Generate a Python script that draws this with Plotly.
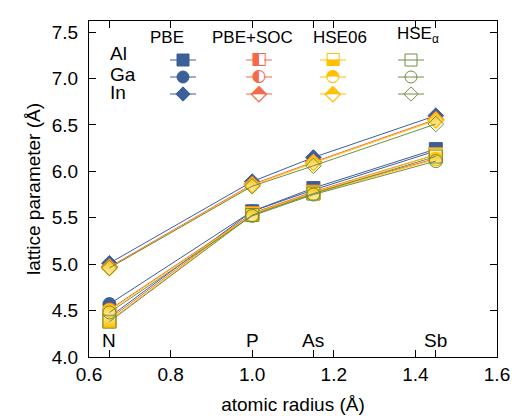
import plotly.graph_objects as go

# ---------------- data ----------------
elements = ["N", "P", "As", "Sb"]
radius = [0.65, 1.00, 1.15, 1.45]
cations = ["Al", "Ga", "In"]
methods = ["PBE", "PBE+SOC", "HSE06", "HSE<sub>α</sub>"]

pbe_al = [4.43, 5.57, 5.82, 6.24]
pbe_ga = [4.57, 5.57, 5.80, 6.22]
pbe_in = [5.01, 5.89, 6.15, 6.60]

soc_al = [4.41, 5.55, 5.78, 6.18]
soc_ga = [4.51, 5.54, 5.77, 6.14]
soc_in = [4.97, 5.86, 6.10, 6.56]

hse_al = [4.39, 5.54, 5.77, 6.18]
hse_ga = [4.50, 5.53, 5.76, 6.13]
hse_in = [4.96, 5.85, 6.09, 6.55]

hsea_al = [4.38, 5.53, 5.76, 6.16]
hsea_ga = [4.48, 5.52, 5.75, 6.11]
hsea_in = [4.96, 5.84, 6.06, 6.51]

x_ticks = [0.6, 0.65, 0.8, 1.0, 1.15, 1.2, 1.4, 1.45, 1.6]
x_ticktext = ["0.6", "", "0.8", "1.0", "", "1.2", "1.4", "", "1.6"]
y_ticks = [4.0, 4.5, 5.0, 5.5, 6.0, 6.5, 7.0, 7.5]

series = {
    "PBE": [pbe_al, pbe_ga, pbe_in],
    "PBE+SOC": [soc_al, soc_ga, soc_in],
    "HSE06": [hse_al, hse_ga, hse_in],
    "HSE<sub>α</sub>": [hsea_al, hsea_ga, hsea_in],
}

# ---------------- styles ----------------
BLUE = "#3B5F98"
ORANGE = "#F4694A"
GOLD = "#FFC000"
GREEN = "#6E9045"
FONT = "Liberation Sans, Arial, sans-serif"

symbols = ["square", "circle", "diamond"]
data_sizes = [13, 13, 12]
leg_sizes = [12, 12, 11]

# half-filled glyphs for the legend keys
half_glyphs = {
    "PBE+SOC": ["\u25E7", "\u25D0", "\u2B18"],
    "HSE06": ["\u2B13", "\u25D3", "\u2B18"],
}
glyph_sizes = [17, 17, 22]


def marker_style(method, i, size):
    sym = symbols[i]
    if method == "PBE":
        return dict(symbol=sym, size=size, color=BLUE, line=dict(color=BLUE, width=1))
    if method == "PBE+SOC":
        return dict(symbol=sym, size=size, color=ORANGE,
                    gradient=dict(type="horizontal", color="#FFE3DA"),
                    line=dict(color=ORANGE, width=1.5))
    if method == "HSE06":
        if i == 0:
            return dict(symbol=sym, size=size, color="#FFF1C4",
                        gradient=dict(type="vertical", color=GOLD),
                        line=dict(color=GOLD, width=1.5))
        return dict(symbol=sym, size=size, color=GOLD,
                    gradient=dict(type="vertical", color="#FFF1C4"),
                    line=dict(color=GOLD, width=1.5))
    return dict(symbol=sym + "-open", size=size, color=GREEN, line=dict(color=GREEN, width=1))


line_colors = {"PBE": BLUE, "PBE+SOC": ORANGE, "HSE06": GOLD, "HSE<sub>α</sub>": GREEN}

fig = go.Figure()

for method, vals in series.items():
    for i, yv in enumerate(vals):
        fig.add_trace(go.Scatter(
            x=radius, y=yv, mode="lines+markers",
            line=dict(color=line_colors[method], width=1),
            marker=marker_style(method, i, data_sizes[i]),
            showlegend=False, hoverinfo="skip"))

# ---------------- custom legend (overlay axes in pixel units) ----------------
leg_x = [94, 170, 244, 322]
leg_y = [39, 56, 73]
head_x = [78, 163, 251, 329]
for m, method in enumerate(methods):
    for i in range(3):
        fig.add_trace(go.Scatter(
            x=[leg_x[m] - 13, leg_x[m] + 13], y=[leg_y[i], leg_y[i]], mode="lines",
            line=dict(color=line_colors[method], width=1),
            xaxis="x2", yaxis="y2", showlegend=False, hoverinfo="skip"))
        if method in half_glyphs:
            fig.add_trace(go.Scatter(
                x=[leg_x[m]], y=[leg_y[i]], mode="markers",
                marker=dict(symbol=symbols[i], size=leg_sizes[i] - 2, color="white"),
                xaxis="x2", yaxis="y2", showlegend=False, hoverinfo="skip"))
            fig.add_trace(go.Scatter(
                x=[leg_x[m]], y=[leg_y[i]], mode="text",
                text=[half_glyphs[method][i]], textposition="middle center",
                textfont=dict(family="DejaVu Sans", size=glyph_sizes[i],
                              color=line_colors[method]),
                xaxis="x2", yaxis="y2", showlegend=False, hoverinfo="skip"))
        else:
            fig.add_trace(go.Scatter(
                x=[leg_x[m]], y=[leg_y[i]], mode="markers",
                marker=marker_style(method, i, leg_sizes[i]),
                xaxis="x2", yaxis="y2", showlegend=False, hoverinfo="skip"))
    fig.add_annotation(x=head_x[m], y=16 if m < 3 else 14, xref="x2", yref="y2",
                       text=method, showarrow=False,
                       font=dict(family=FONT, size=17, color="black"))

for i, c in enumerate(cations):
    fig.add_annotation(x=19, y=[32, 53, 71][i], xref="x2", yref="y2", text=c,
                       showarrow=False, xanchor="left",
                       font=dict(family=FONT, size=19, color="black"))

for el, r in zip(elements, radius):
    fig.add_annotation(x=r, y=4.18, text=el, showarrow=False,
                       font=dict(family=FONT, size=19, color="black"))

fig.update_layout(
    width=517, height=416,
    margin=dict(l=89, r=20, t=21, b=59, autoexpand=False),
    paper_bgcolor="white", plot_bgcolor="white",
    font=dict(family=FONT, size=19, color="black"),
    xaxis=dict(range=[0.6, 1.6], tickvals=x_ticks, ticktext=x_ticktext,
               ticks="inside", ticklen=7, tickcolor="black", mirror="ticks",
               showline=True, linecolor="black", linewidth=1.2, showgrid=False,
               zeroline=False, tickfont=dict(size=19), automargin=False,
               title=dict(text="atomic radius (Å)", font=dict(size=19), standoff=13)),
    yaxis=dict(range=[4.0, 7.62], tickvals=y_ticks, tickformat=".1f",
               ticks="inside", ticklen=7, tickcolor="black", mirror="ticks",
               showline=True, linecolor="black", linewidth=1.2, showgrid=False,
               zeroline=False, tickfont=dict(size=19), ticklabelstandoff=6,
               automargin=False,
               title=dict(text="lattice parameter (Å)", font=dict(size=19), standoff=6)),
    xaxis2=dict(overlaying="x", range=[0, 408], visible=False, fixedrange=True),
    yaxis2=dict(overlaying="y", range=[336, 0], visible=False, fixedrange=True),
)

fig.write_html("out.html")
